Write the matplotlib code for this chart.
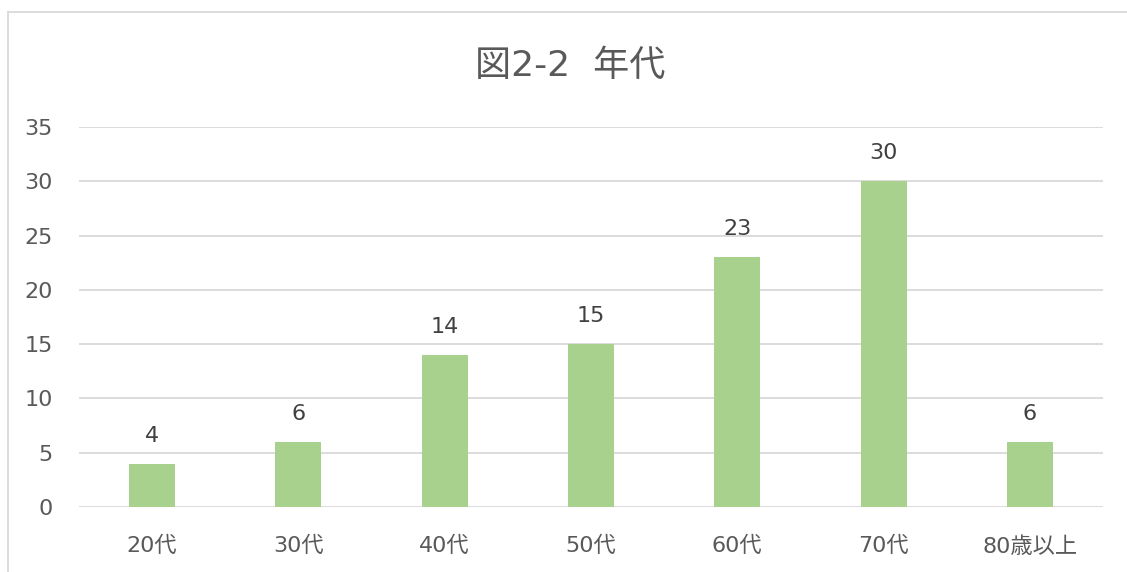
import matplotlib
matplotlib.use("Agg")
import matplotlib.pyplot as plt
from matplotlib.lines import Line2D

plt.rcParams['font.family'] = ['DejaVu Sans', 'Noto Sans CJK JP']

# データ
categories = ["20代", "30代", "40代", "50代", "60代", "70代", "80歳以上"]
counts = [4, 6, 14, 15, 23, 30, 6]
yticks = [0, 5, 10, 15, 20, 25, 30, 35]

fig = plt.figure(figsize=(11.27, 5.72), dpi=100)
ax = fig.add_axes([79 / 1127, 1 - 507 / 572, 1024 / 1127, 380 / 572])

x = range(len(categories))
bars = ax.bar(x, counts, width=0.315, color='#A9D18E', zorder=3)

# 値ラベル
for rect, v in zip(bars, counts):
    ax.annotate(str(v), (rect.get_x() + rect.get_width() / 2, rect.get_height()),
                xytext=(0, 13), textcoords='offset points',
                ha='center', va='bottom', fontsize=16, color='#404040')

ax.set_xlim(-0.5, len(categories) - 0.5)
ax.set_ylim(0, 35)
ax.set_yticks(yticks)
ax.set_xticks(list(x))
ax.set_xticklabels(categories)
ax.tick_params(axis='both', length=0, labelsize=16, labelcolor='#595959')
ax.tick_params(axis='y', pad=19)
ax.tick_params(axis='x', pad=21)
ax.grid(axis='y', color='#D9D9D9', linewidth=1.3, zorder=0)
for s in ax.spines.values():
    s.set_visible(False)

fig.text(570 / 1127, 1 - 66 / 572, "図2-2  年代", ha='center', va='center',
         fontsize=26, color='#595959')

# 枠線
fig.add_artist(Line2D([8 / 1127, 8 / 1127], [0, 1 - 12 / 572], transform=fig.transFigure,
                      color='#D9D9D9', linewidth=1.3))
fig.add_artist(Line2D([8 / 1127, 1], [1 - 12 / 572, 1 - 12 / 572], transform=fig.transFigure,
                      color='#D9D9D9', linewidth=1.3))

fig.savefig("out.png", dpi=100)
